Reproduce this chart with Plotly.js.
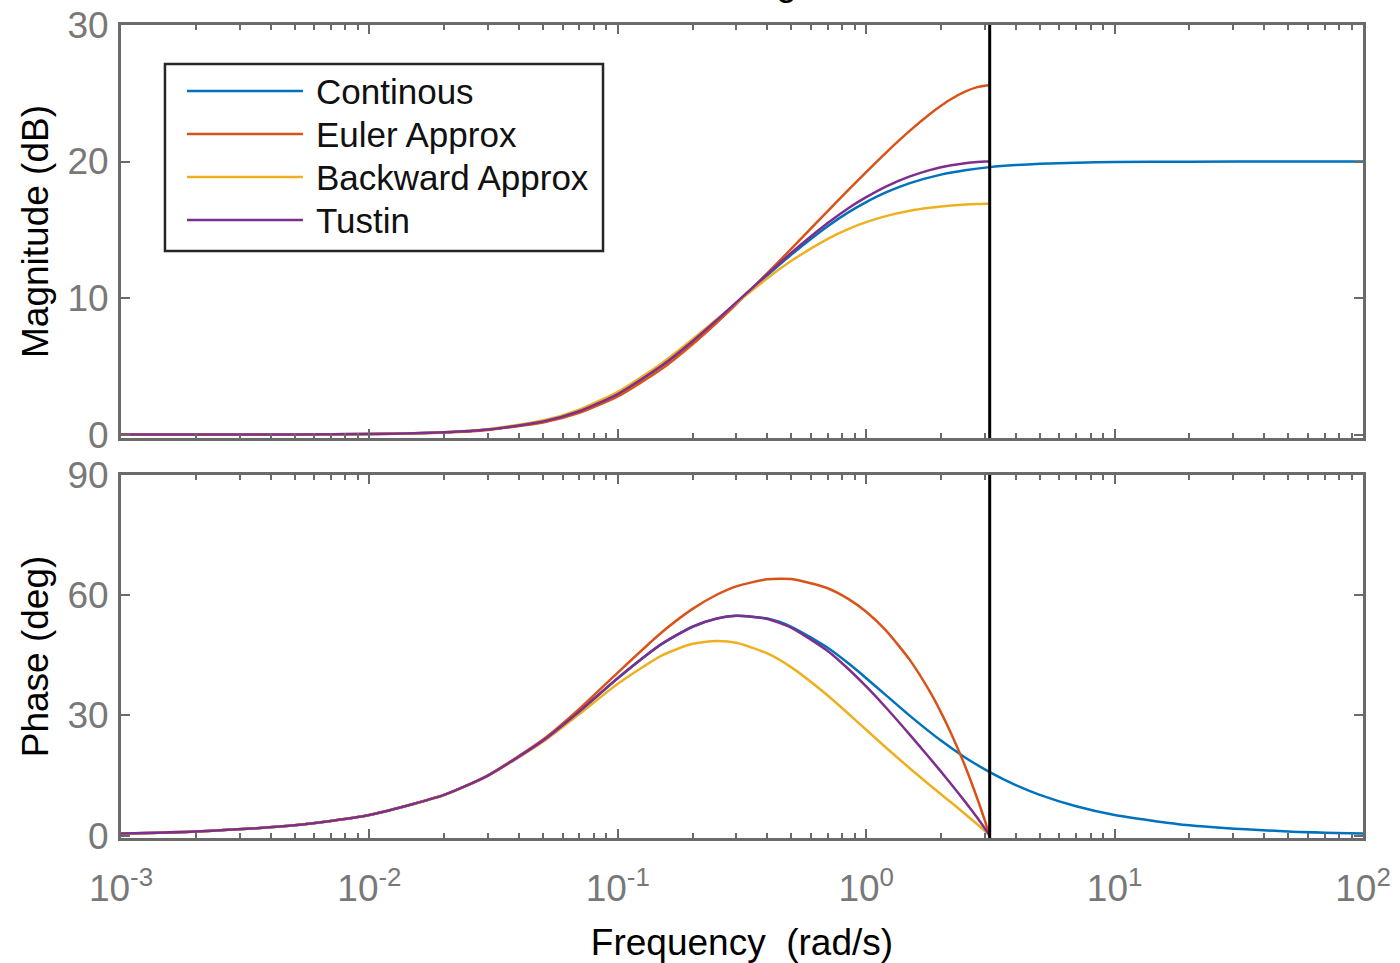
<!DOCTYPE html>
<html><head><meta charset="utf-8">
<script src="https://cdn.plot.ly/plotly-3.0.1.min.js"></script>
<style>html,body{margin:0;padding:0;background:#fff;}#chart{width:1400px;height:963px;}</style>
</head><body><div id="chart"></div>
<script>
// ---- data ----
const seriesNames = ['Continous', 'Euler Approx', 'Backward Approx', 'Tustin'];
const seriesColors = ['#0072BD', '#D95319', '#EDB120', '#7E2F8E'];

const freqCont  = [0.001,0.002,0.005,0.01,0.02,0.03,0.05,0.07,0.1,0.15,0.2,0.25,0.3,0.4,0.5,0.7,0.85,1,1.2,1.5,2,2.5,3.1416,4,5,7,10,20,50,100];
const magCont   = [0.00,0.00,0.01,0.04,0.17,0.37,0.96,1.71,2.97,5.02,6.82,8.34,9.63,11.66,13.18,15.26,16.29,17.03,17.74,18.42,19.04,19.36,19.59,19.74,19.83,19.91,19.96,19.99,20.00,20.00];
const phaseCont = [0.52,1.03,2.58,5.14,10.16,14.98,23.70,30.98,39.29,47.78,52.12,54.16,54.87,54.16,52.12,46.88,42.93,39.29,35.05,29.88,23.71,19.51,15.85,12.61,10.16,7.31,5.14,2.57,1.03,0.52];

const freqDisc  = [0.001,0.002,0.005,0.01,0.02,0.03,0.05,0.07,0.1,0.15,0.2,0.25,0.3,0.4,0.5,0.7,0.85,1,1.2,1.5,1.8,2,2.2,2.5,2.8,3,3.1416];
const magEuler      = [0.00,0.00,0.01,0.04,0.15,0.34,0.88,1.59,2.79,4.80,6.62,8.19,9.56,11.82,13.62,16.37,17.94,19.23,20.64,22.26,23.46,24.08,24.58,25.12,25.45,25.55,25.58];
const phaseEuler    = [0.52,1.03,2.58,5.14,10.19,15.05,23.98,31.63,40.69,50.69,56.59,60.11,62.21,63.99,64.03,61.74,59.01,55.85,51.22,43.79,36.04,30.77,25.43,17.38,9.27,3.84,0.00];
const magBackward   = [0.00,0.00,0.01,0.05,0.18,0.40,1.03,1.83,3.13,5.21,6.98,8.43,9.63,11.45,12.73,14.34,15.07,15.56,16.00,16.39,16.61,16.71,16.78,16.85,16.89,16.90,16.90];
const phaseBackward = [0.52,1.03,2.58,5.14,10.14,14.91,23.41,30.33,37.89,44.93,47.86,48.59,48.12,45.47,41.98,34.97,30.36,26.41,21.99,16.76,12.65,10.33,8.24,5.41,2.82,1.16,0.00];
const magTustin     = [0.00,0.00,0.01,0.04,0.17,0.37,0.96,1.71,2.97,5.04,6.84,8.38,9.68,11.75,13.32,15.49,16.60,17.39,18.17,18.91,19.37,19.58,19.73,19.88,19.97,20.00,20.00];
const phaseTustin   = [0.52,1.03,2.58,5.14,10.16,14.98,23.70,30.98,39.31,47.80,52.17,54.19,54.87,54.07,51.87,46.07,41.51,37.23,31.98,25.15,19.37,15.96,12.82,8.48,4.43,1.83,0.00];

const nyquistFreq = 3.1416;
const magTicks = [0, 10, 20, 30];
const phaseTicks = [0, 30, 60, 90];
const freqTicks = [0.001, 0.01, 0.1, 1, 10, 100];
const freqTickText = ['10<sup>-3</sup>','10<sup>-2</sup>','10<sup>-1</sup>','10<sup>0</sup>','10<sup>1</sup>','10<sup>2</sup>'];

const titleText = 'Bode Diagram';
const xTitle = 'Frequency \u00a0(rad/s)';
const magTitle = 'Magnitude (dB)';
const phaseTitle = 'Phase (deg)';

// ---- build traces ----
const xs = [freqCont, freqDisc, freqDisc, freqDisc];
const mags = [magCont, magEuler, magBackward, magTustin];
const phases = [phaseCont, phaseEuler, phaseBackward, phaseTustin];
const traces = [];
for (let i = 0; i < seriesNames.length; i++) {
  traces.push({x: xs[i], y: mags[i], xaxis: 'x', yaxis: 'y', mode: 'lines', name: seriesNames[i],
    line: {color: seriesColors[i], width: 2.5, shape: 'spline', smoothing: 0.6}, showlegend: false, hoverinfo: 'x+y+name'});
}
for (let i = 0; i < seriesNames.length; i++) {
  traces.push({x: xs[i], y: phases[i], xaxis: 'x2', yaxis: 'y2', mode: 'lines', name: seriesNames[i],
    line: {color: seriesColors[i], width: 2.5, shape: 'spline', smoothing: 0.6}, showlegend: false, hoverinfo: 'x+y+name'});
}

const axisGray = '#6a6a6a';
const tickGray = '#787878';
const FONT = '"Liberation Sans", Arial, Helvetica, sans-serif';
const common = {
  showline: true, linecolor: axisGray, linewidth: 3, mirror: 'allticks',
  ticks: 'inside', ticklen: 9, tickwidth: 2, tickcolor: axisGray,
  showgrid: false, zeroline: false,
  tickfont: {family: FONT, size: 37, color: tickGray}
};
const xCommon = Object.assign({}, common, {
  type: 'log', range: [-3, 2], tickmode: 'array', tickvals: freqTicks, ticktext: freqTickText,
  minor: {ticks: 'inside', ticklen: 5, tickwidth: 2, tickcolor: axisGray, dtick: 'D1', showgrid: false}
});

// legend (drawn as layout elements, MATLAB style long line samples)
const legRows = [0.9188, 0.8659, 0.8130, 0.7601];
const shapes = [
  {type: 'line', xref: 'x', yref: 'y domain', x0: nyquistFreq, x1: nyquistFreq, y0: 0, y1: 1, line: {color: '#000', width: 3}, layer: 'above'},
  {type: 'line', xref: 'x2', yref: 'y2 domain', x0: nyquistFreq, x1: nyquistFreq, y0: 0, y1: 1, line: {color: '#000', width: 3}, layer: 'above'},
  {type: 'rect', xref: 'paper', yref: 'paper', x0: 0.0354, x1: 0.3881, y0: 0.722, y1: 0.952, line: {color: '#262626', width: 2.5}, fillcolor: '#ffffff', layer: 'above'}
];
const annotations = [];
for (let i = 0; i < seriesNames.length; i++) {
  shapes.push({type: 'line', xref: 'paper', yref: 'paper', x0: 0.0531, x1: 0.1465, y0: legRows[i], y1: legRows[i],
    line: {color: seriesColors[i], width: 2.5}, layer: 'above'});
  annotations.push({xref: 'paper', yref: 'paper', x: 0.1555, y: legRows[i], xanchor: 'left', yanchor: 'middle',
    text: seriesNames[i], showarrow: false, font: {family: FONT, size: 35, color: '#111'}});
}
annotations.push({xref: 'paper', yref: 'paper', x: 0.5, y: 1.0, yshift: 43, xanchor: 'center', yanchor: 'middle',
  text: titleText, showarrow: false, font: {family: FONT, size: 37, color: '#000'}});

const layout = {
  width: 1400, height: 963,
  margin: {l: 121, r: 37, t: 25, b: 125},
  paper_bgcolor: '#fff', plot_bgcolor: '#fff',
  font: {family: FONT, color: '#000'},
  xaxis: Object.assign({}, xCommon, {anchor: 'y', showticklabels: false}),
  xaxis2: Object.assign({}, xCommon, {anchor: 'y2', matches: 'x', ticklabelstandoff: 16,
    title: {text: xTitle, font: {family: FONT, size: 37, color: '#000'}, standoff: 22}}),
  yaxis: Object.assign({}, common, {domain: [0.492, 1], range: [-0.25, 30], tickmode: 'array', tickvals: magTicks, ticklabelstandoff: 2,
    title: {text: magTitle, font: {family: FONT, size: 37, color: '#000'}, standoff: 8}}),
  yaxis2: Object.assign({}, common, {domain: [0, 0.4465], range: [-0.6, 90], tickmode: 'array', tickvals: phaseTicks, ticklabelstandoff: 2,
    title: {text: phaseTitle, font: {family: FONT, size: 37, color: '#000'}, standoff: 8}}),
  shapes: shapes,
  annotations: annotations,
  showlegend: false
};

Plotly.newPlot('chart', traces, layout, {displayModeBar: false, staticPlot: true});
</script>
</body></html>
